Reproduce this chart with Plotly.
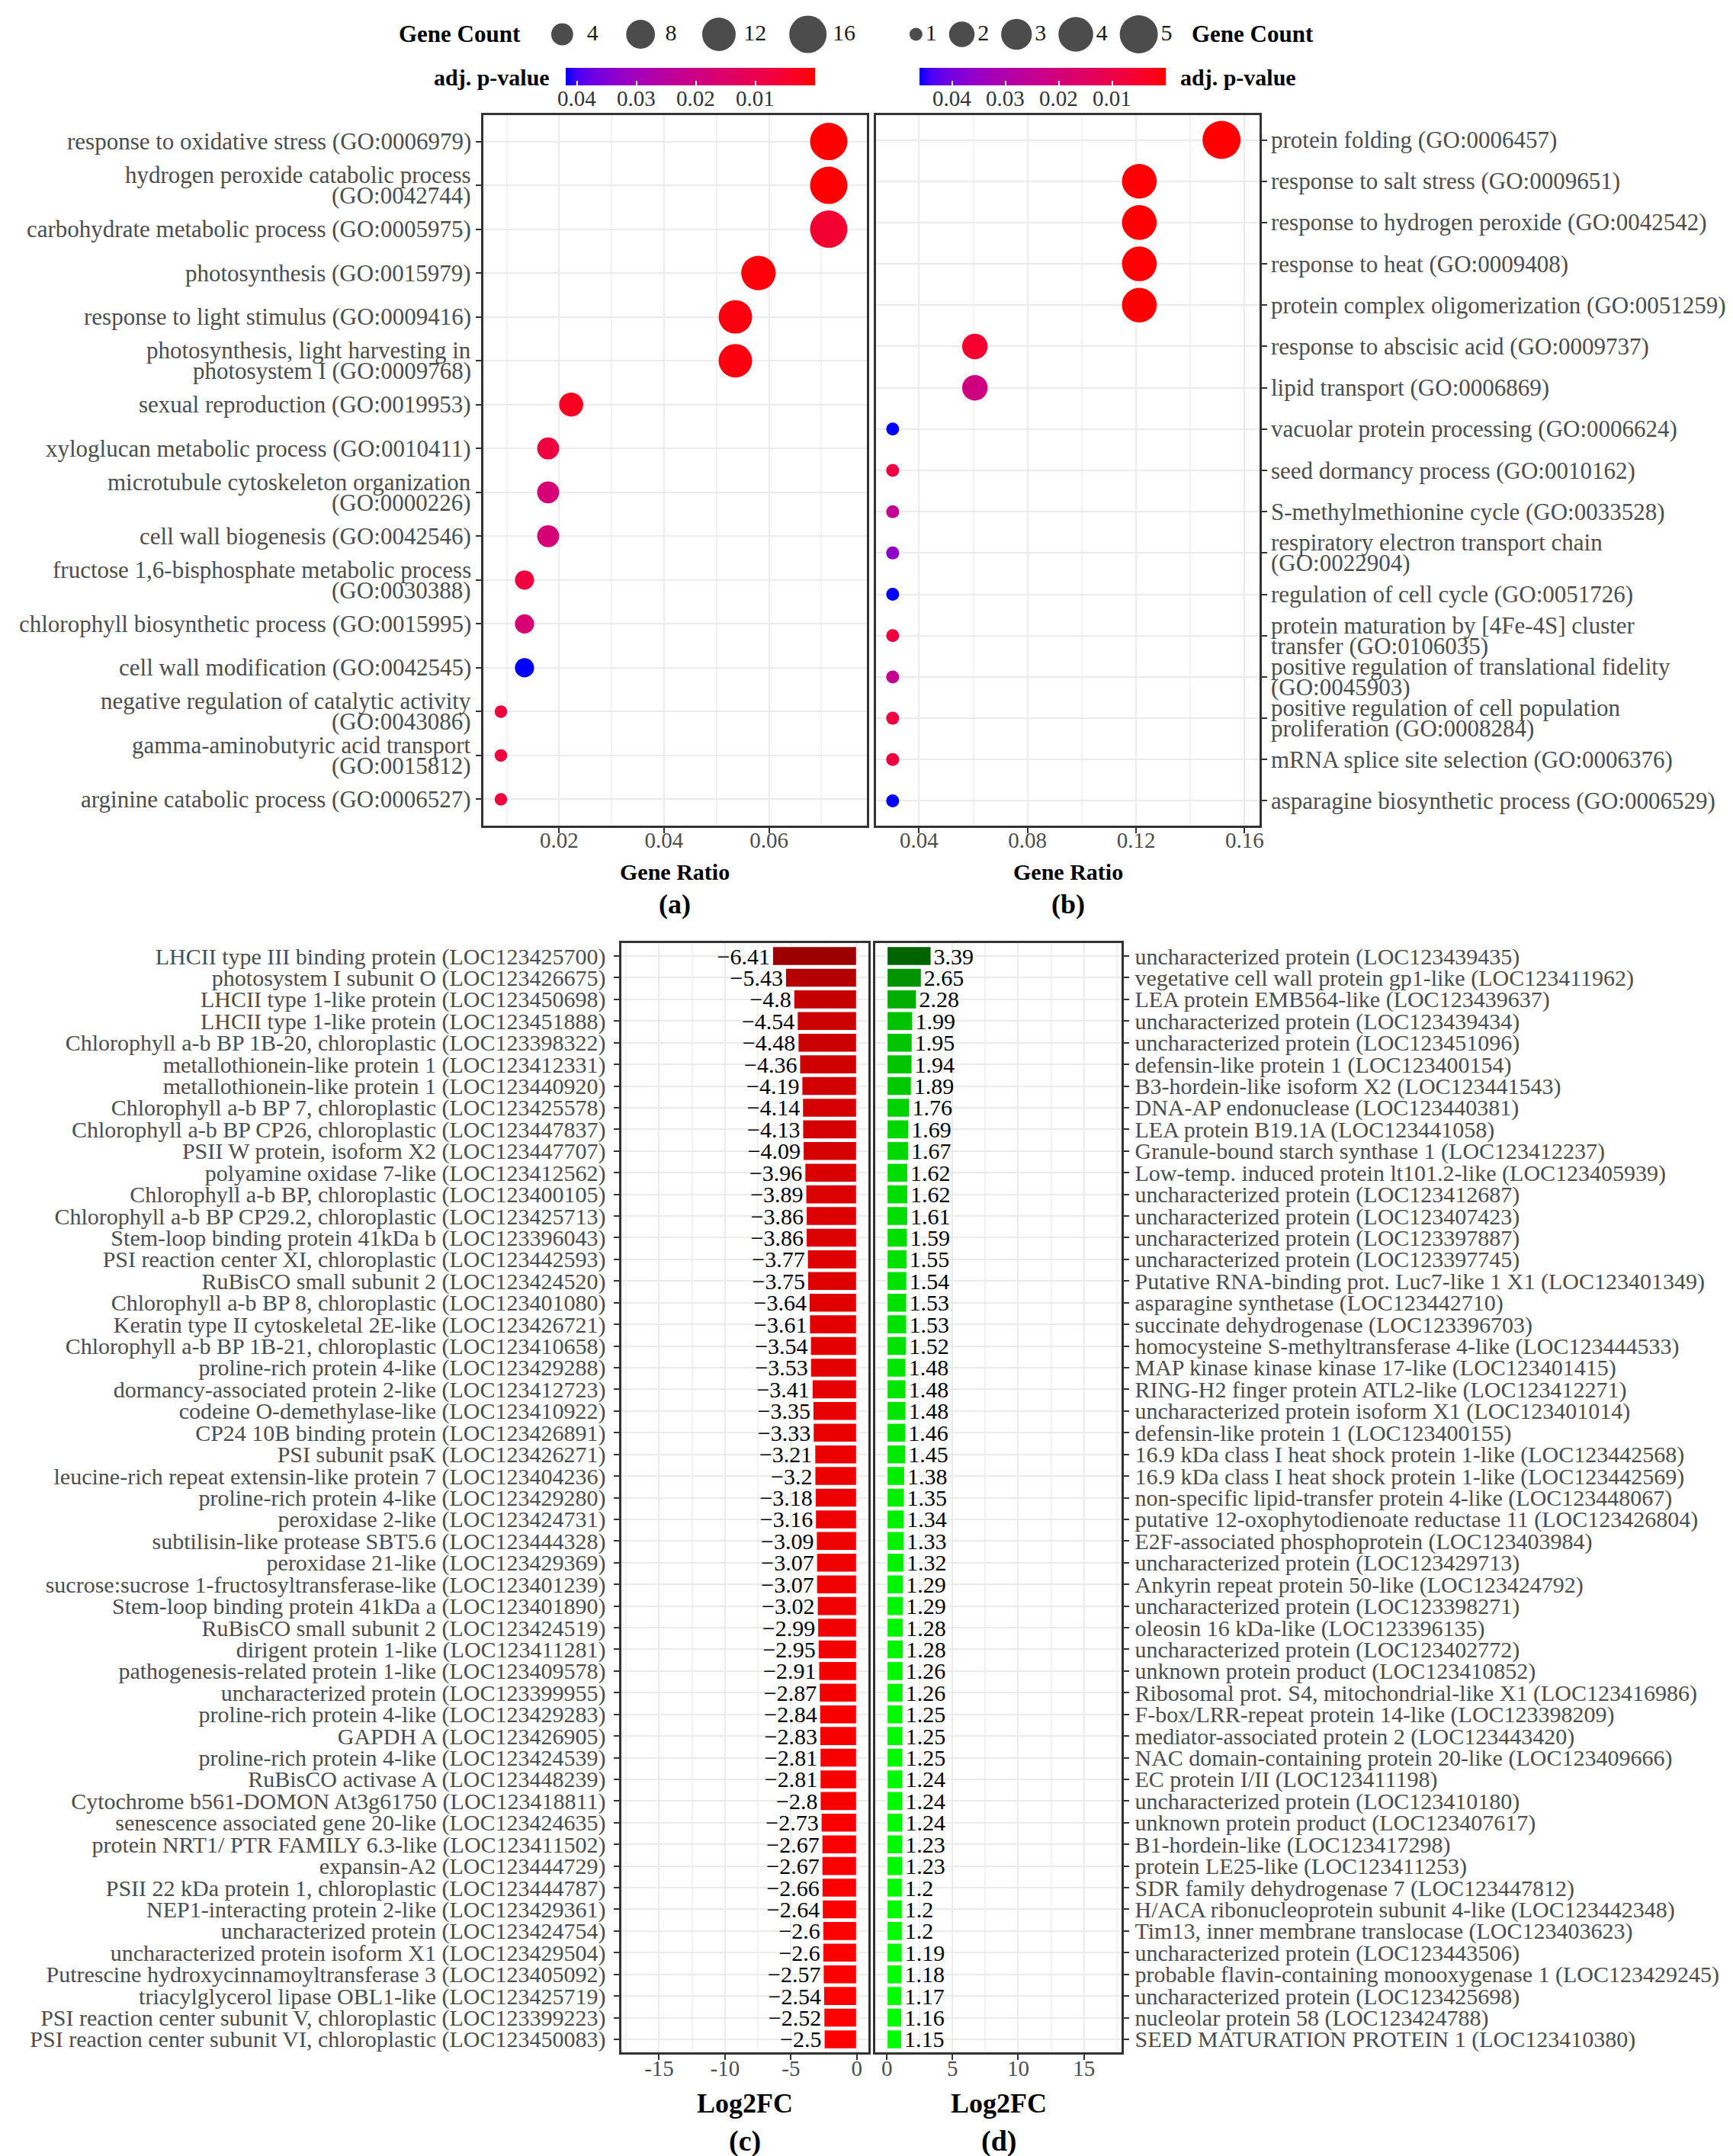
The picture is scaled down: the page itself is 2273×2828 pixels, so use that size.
import numpy as np
import plotly.graph_objects as go

W, H = 2273, 2828
FONT = "Liberation Serif"
GRAY = "#4D4D4D"

# ---------------- Panel (a): GO terms, down-regulated ----------------
a_terms = [
    "response to oxidative stress (GO:0006979)",
    "hydrogen peroxide catabolic process\n(GO:0042744)",
    "carbohydrate metabolic process (GO:0005975)",
    "photosynthesis (GO:0015979)",
    "response to light stimulus (GO:0009416)",
    "photosynthesis, light harvesting in\nphotosystem I (GO:0009768)",
    "sexual reproduction (GO:0019953)",
    "xyloglucan metabolic process (GO:0010411)",
    "microtubule cytoskeleton organization\n(GO:0000226)",
    "cell wall biogenesis (GO:0042546)",
    "fructose 1,6-bisphosphate metabolic process\n(GO:0030388)",
    "chlorophyll biosynthetic process (GO:0015995)",
    "cell wall modification (GO:0042545)",
    "negative regulation of catalytic activity\n(GO:0043086)",
    "gamma-aminobutyric acid transport\n(GO:0015812)",
    "arginine catabolic process (GO:0006527)",
]
a_ratio = [0.0714, 0.0714, 0.0714, 0.0580, 0.0536, 0.0536, 0.0223, 0.0179,
           0.0179, 0.0179, 0.0134, 0.0134, 0.0134, 0.0089, 0.0089, 0.0089]
a_count = [16, 16, 16, 13, 12, 12, 5, 4, 4, 4, 3, 3, 3, 2, 2, 2]
a_padj = [0.00005, 0.0002, 0.0055, 0.0008, 0.0012, 0.0012, 0.003, 0.0075,
          0.0175, 0.0175, 0.0075, 0.017, 0.0419, 0.0075, 0.0075, 0.0075]
a_xticks = [0.02, 0.04, 0.06]

# ---------------- Panel (b): GO terms, up-regulated ----------------
b_terms = [
    "protein folding (GO:0006457)",
    "response to salt stress (GO:0009651)",
    "response to hydrogen peroxide (GO:0042542)",
    "response to heat (GO:0009408)",
    "protein complex oligomerization (GO:0051259)",
    "response to abscisic acid (GO:0009737)",
    "lipid transport (GO:0006869)",
    "vacuolar protein processing (GO:0006624)",
    "seed dormancy process (GO:0010162)",
    "S-methylmethionine cycle (GO:0033528)",
    "respiratory electron transport chain\n(GO:0022904)",
    "regulation of cell cycle (GO:0051726)",
    "protein maturation by [4Fe-4S] cluster\ntransfer (GO:0106035)",
    "positive regulation of translational fidelity\n(GO:0045903)",
    "positive regulation of cell population\nproliferation (GO:0008284)",
    "mRNA splice site selection (GO:0006376)",
    "asparagine biosynthetic process (GO:0006529)",
]
b_ratio = [0.1515, 0.1212, 0.1212, 0.1212, 0.1212, 0.0606, 0.0606, 0.0303, 0.0303,
           0.0303, 0.0303, 0.0303, 0.0303, 0.0303, 0.0303, 0.0303, 0.0303]
b_count = [5, 4, 4, 4, 4, 2, 2, 1, 1, 1, 1, 1, 1, 1, 1, 1, 1]
b_padj = [0.00003, 0.0004, 0.0004, 0.0004, 0.0004, 0.0055, 0.021, 0.046, 0.0085,
          0.025, 0.036, 0.046, 0.0085, 0.025, 0.0085, 0.0085, 0.046]
b_xticks = [0.04, 0.08, 0.12, 0.16]

# ---------------- Panel (c): down-regulated genes ----------------
c_genes = [
    "LHCII type III binding protein (LOC123425700)",
    "photosystem I subunit O (LOC123426675)",
    "LHCII type 1-like protein (LOC123450698)",
    "LHCII type 1-like protein (LOC123451888)",
    "Chlorophyll a-b BP 1B-20, chloroplastic (LOC123398322)",
    "metallothionein-like protein 1 (LOC123412331)",
    "metallothionein-like protein 1 (LOC123440920)",
    "Chlorophyll a-b BP 7, chloroplastic (LOC123425578)",
    "Chlorophyll a-b BP CP26, chloroplastic (LOC123447837)",
    "PSII W protein, isoform X2 (LOC123447707)",
    "polyamine oxidase 7-like (LOC123412562)",
    "Chlorophyll a-b BP, chloroplastic (LOC123400105)",
    "Chlorophyll a-b BP CP29.2, chloroplastic (LOC123425713)",
    "Stem-loop binding protein 41kDa b (LOC123396043)",
    "PSI reaction center XI, chloroplastic (LOC123442593)",
    "RuBisCO small subunit 2 (LOC123424520)",
    "Chlorophyll a-b BP 8, chloroplastic (LOC123401080)",
    "Keratin type II cytoskeletal 2E-like (LOC123426721)",
    "Chlorophyll a-b BP 1B-21, chloroplastic (LOC123410658)",
    "proline-rich protein 4-like (LOC123429288)",
    "dormancy-associated protein 2-like (LOC123412723)",
    "codeine O-demethylase-like (LOC123410922)",
    "CP24 10B binding protein (LOC123426891)",
    "PSI subunit psaK (LOC123426271)",
    "leucine-rich repeat extensin-like protein 7 (LOC123404236)",
    "proline-rich protein 4-like (LOC123429280)",
    "peroxidase 2-like (LOC123424731)",
    "subtilisin-like protease SBT5.6 (LOC123444328)",
    "peroxidase 21-like (LOC123429369)",
    "sucrose:sucrose 1-fructosyltransferase-like (LOC123401239)",
    "Stem-loop binding protein 41kDa a (LOC123401890)",
    "RuBisCO small subunit 2 (LOC123424519)",
    "dirigent protein 1-like (LOC123411281)",
    "pathogenesis-related protein 1-like (LOC123409578)",
    "uncharacterized protein (LOC123399955)",
    "proline-rich protein 4-like (LOC123429283)",
    "GAPDH A (LOC123426905)",
    "proline-rich protein 4-like (LOC123424539)",
    "RuBisCO activase A (LOC123448239)",
    "Cytochrome b561-DOMON At3g61750 (LOC123418811)",
    "senescence associated gene 20-like (LOC123424635)",
    "protein NRT1/ PTR FAMILY 6.3-like (LOC123411502)",
    "expansin-A2 (LOC123444729)",
    "PSII 22 kDa protein 1, chloroplastic (LOC123444787)",
    "NEP1-interacting protein 2-like (LOC123429361)",
    "uncharacterized protein (LOC123424754)",
    "uncharacterized protein isoform X1 (LOC123429504)",
    "Putrescine hydroxycinnamoyltransferase 3 (LOC123405092)",
    "triacylglycerol lipase OBL1-like (LOC123425719)",
    "PSI reaction center subunit V, chloroplastic (LOC123399223)",
    "PSI reaction center subunit VI, chloroplastic (LOC123450083)",
]
c_log2fc = [-6.41, -5.43, -4.8, -4.54, -4.48, -4.36, -4.19, -4.14, -4.13, -4.09,
            -3.96, -3.89, -3.86, -3.86, -3.77, -3.75, -3.64, -3.61, -3.54, -3.53,
            -3.41, -3.35, -3.33, -3.21, -3.2, -3.18, -3.16, -3.09, -3.07, -3.07,
            -3.02, -2.99, -2.95, -2.91, -2.87, -2.84, -2.83, -2.81, -2.81, -2.8,
            -2.73, -2.67, -2.67, -2.66, -2.64, -2.6, -2.6, -2.57, -2.54, -2.52, -2.5]
c_xticks = [-15, -10, -5, 0]

# ---------------- Panel (d): up-regulated genes ----------------
d_genes = [
    "uncharacterized protein (LOC123439435)",
    "vegetative cell wall protein gp1-like (LOC123411962)",
    "LEA protein EMB564-like (LOC123439637)",
    "uncharacterized protein (LOC123439434)",
    "uncharacterized protein (LOC123451096)",
    "defensin-like protein 1 (LOC123400154)",
    "B3-hordein-like isoform X2 (LOC123441543)",
    "DNA-AP endonuclease (LOC123440381)",
    "LEA protein B19.1A (LOC123441058)",
    "Granule-bound starch synthase 1 (LOC123412237)",
    "Low-temp. induced protein lt101.2-like (LOC123405939)",
    "uncharacterized protein (LOC123412687)",
    "uncharacterized protein (LOC123407423)",
    "uncharacterized protein (LOC123397887)",
    "uncharacterized protein (LOC123397745)",
    "Putative RNA-binding prot. Luc7-like 1 X1 (LOC123401349)",
    "asparagine synthetase (LOC123442710)",
    "succinate dehydrogenase (LOC123396703)",
    "homocysteine S-methyltransferase 4-like (LOC123444533)",
    "MAP kinase kinase kinase 17-like (LOC123401415)",
    "RING-H2 finger protein ATL2-like (LOC123412271)",
    "uncharacterized protein isoform X1 (LOC123401014)",
    "defensin-like protein 1 (LOC123400155)",
    "16.9 kDa class I heat shock protein 1-like (LOC123442568)",
    "16.9 kDa class I heat shock protein 1-like (LOC123442569)",
    "non-specific lipid-transfer protein 4-like (LOC123448067)",
    "putative 12-oxophytodienoate reductase 11 (LOC123426804)",
    "E2F-associated phosphoprotein (LOC123403984)",
    "uncharacterized protein (LOC123429713)",
    "Ankyrin repeat protein 50-like (LOC123424792)",
    "uncharacterized protein (LOC123398271)",
    "oleosin 16 kDa-like (LOC123396135)",
    "uncharacterized protein (LOC123402772)",
    "unknown protein product (LOC123410852)",
    "Ribosomal prot. S4, mitochondrial-like X1 (LOC123416986)",
    "F-box/LRR-repeat protein 14-like (LOC123398209)",
    "mediator-associated protein 2 (LOC123443420)",
    "NAC domain-containing protein 20-like (LOC123409666)",
    "EC protein I/II (LOC123411198)",
    "uncharacterized protein (LOC123410180)",
    "unknown protein product (LOC123407617)",
    "B1-hordein-like (LOC123417298)",
    "protein LE25-like (LOC123411253)",
    "SDR family dehydrogenase 7 (LOC123447812)",
    "H/ACA ribonucleoprotein subunit 4-like (LOC123442348)",
    "Tim13, inner membrane translocase (LOC123403623)",
    "uncharacterized protein (LOC123443506)",
    "probable flavin-containing monooxygenase 1 (LOC123429245)",
    "uncharacterized protein (LOC123425698)",
    "nucleolar protein 58 (LOC123424788)",
    "SEED MATURATION PROTEIN 1 (LOC123410380)",
]
d_log2fc = [3.39, 2.65, 2.28, 1.99, 1.95, 1.94, 1.89, 1.76, 1.69, 1.67,
            1.62, 1.62, 1.61, 1.59, 1.55, 1.54, 1.53, 1.53, 1.52, 1.48,
            1.48, 1.48, 1.46, 1.45, 1.38, 1.35, 1.34, 1.33, 1.32, 1.29,
            1.29, 1.28, 1.28, 1.26, 1.26, 1.25, 1.25, 1.25, 1.24, 1.24,
            1.24, 1.23, 1.23, 1.2, 1.2, 1.2, 1.19, 1.18, 1.17, 1.16, 1.15]
d_xticks = [0, 5, 10, 15]

size_keys_a = [4, 8, 12, 16]
size_keys_b = [1, 2, 3, 4, 5]
pval_ticks = [0.04, 0.03, 0.02, 0.01]


# ---------------- helpers ----------------
def hex_to_lab(hexc):
    rgb = [int(hexc[i:i + 2], 16) / 255 for i in (1, 3, 5)]
    lin = [c / 12.92 if c <= 0.04045 else ((c + 0.055) / 1.055) ** 2.4 for c in rgb]
    r, g, b = lin
    X = (0.4124 * r + 0.3576 * g + 0.1805 * b) / 0.95047
    Y = 0.2126 * r + 0.7152 * g + 0.0722 * b
    Z = (0.0193 * r + 0.1192 * g + 0.9505 * b) / 1.08883
    f = lambda t: t ** (1 / 3) if t > 0.008856 else 7.787 * t + 16 / 116
    fx, fy, fz = f(X), f(Y), f(Z)
    return 116 * fy - 16, 500 * (fx - fy), 200 * (fy - fz)


def lab_to_hex(L, a, b):
    fy = (L + 16) / 116
    fx = fy + a / 500
    fz = fy - b / 200
    finv = lambda t: t ** 3 if t ** 3 > 0.008856 else (t - 16 / 116) / 7.787
    X, Y, Z = 0.95047 * finv(fx), finv(fy), 1.08883 * finv(fz)
    r = 3.2406 * X - 1.5372 * Y - 0.4986 * Z
    g = -0.9689 * X + 1.8758 * Y + 0.0415 * Z
    bb = 0.0557 * X - 0.2040 * Y + 1.0570 * Z

    def gam(c):
        c = min(max(c, 0.0), 1.0)
        return 12.92 * c if c <= 0.0031308 else 1.055 * c ** (1 / 2.4) - 0.055
    return "#%02x%02x%02x" % tuple(int(round(gam(c) * 255)) for c in (r, g, bb))


def lab_scale(c0, c1, n=25):
    l0, l1 = hex_to_lab(c0), hex_to_lab(c1)
    return [[i / (n - 1), lab_to_hex(*[l0[k] + (l1[k] - l0[k]) * i / (n - 1) for k in range(3)])]
            for i in range(n)]


def diam(counts, ref_counts, dmin, dmax):
    lo, hi = min(ref_counts), max(ref_counts)
    return [dmin + (dmax - dmin) * np.sqrt((c - lo) / (hi - lo)) for c in counts]


def fmt(v):
    return ("%g" % v).replace("-", "\u2212")


def px(x):
    return x / W


def py(y):
    return 1 - y / H


p_scale = lab_scale("#0000FF", "#FF0000")
red_scale = lab_scale("#9C0000", "#FF0000")
green_scale = lab_scale("#00FF00", "#006400")

a_cats = [t.replace("\n", " ") for t in a_terms]
b_cats = [t.replace("\n", " ") for t in b_terms]

fig = go.Figure()

# dot plots
fig.add_trace(go.Scatter(
    x=a_ratio, y=a_cats, mode="markers", xaxis="x", yaxis="y",
    marker=dict(size=diam(a_count, a_count, 16.5, 49), sizemode="diameter",
                color=[-p for p in a_padj], coloraxis="coloraxis", line=dict(width=0), opacity=1),
    cliponaxis=False, showlegend=False))
fig.add_trace(go.Scatter(
    x=b_ratio, y=b_cats, mode="markers", xaxis="x2", yaxis="y2",
    marker=dict(size=diam(b_count, b_count, 17, 50), sizemode="diameter",
                color=[-p for p in b_padj], coloraxis="coloraxis2", line=dict(width=0), opacity=1),
    cliponaxis=False, showlegend=False))

# bar charts
fig.add_trace(go.Bar(
    x=c_log2fc, y=c_genes, orientation="h", xaxis="x3", yaxis="y3", width=0.9,
    marker=dict(color=c_log2fc, colorscale=red_scale, cmin=min(c_log2fc), cmax=max(c_log2fc),
                line=dict(color="white", width=2)),
    text=[fmt(v) for v in c_log2fc], textposition="outside", constraintext="none",
    textfont=dict(size=30, color="black", family=FONT), cliponaxis=False, showlegend=False))
fig.add_trace(go.Bar(
    x=d_log2fc, y=d_genes, orientation="h", xaxis="x4", yaxis="y4", width=0.9,
    marker=dict(color=d_log2fc, colorscale=green_scale, cmin=min(d_log2fc), cmax=max(d_log2fc),
                line=dict(color="white", width=2)),
    text=[fmt(v) for v in d_log2fc], textposition="outside", constraintext="none",
    textfont=dict(size=30, color="black", family=FONT), cliponaxis=False, showlegend=False))


# size legends (drawn on a hidden pixel-space overlay axis)
def legend_layout(keys, dks, start, gap, uniform):
    kw = [max(dks)] * len(keys) if uniform else list(dks)
    lw = [14 * len(str(k)) for k in keys]
    xs = [start]
    for i in range(1, len(keys)):
        xs.append(xs[-1] + kw[i - 1] / 2 + kw[i] / 2 + lw[i - 1] + gap)
    return xs, kw


for keys, ref, dmin, dmax, start, gap, uniform, pad in [
        (size_keys_a, a_count, 16.5, 49, 731, 40, True, 8),
        (size_keys_b, b_count, 17, 50, 1196, 21, False, 4)]:
    dks = diam(keys, ref, dmin, dmax)
    xs, kw = legend_layout(keys, dks, start, gap, uniform)
    fig.add_trace(go.Scatter(
        x=xs, y=[37] * len(keys), mode="markers", xaxis="x5", yaxis="y5",
        marker=dict(size=dks, sizemode="diameter", color="black", line=dict(width=0)),
        showlegend=False, hoverinfo="skip", cliponaxis=False))
    fig.add_trace(go.Scatter(
        x=[x + k / 2 + pad for x, k in zip(xs, kw)], y=[37] * len(keys), mode="text",
        text=[str(k) for k in keys], textposition="middle right", xaxis="x5", yaxis="y5",
        textfont=dict(size=30, color="#1A1A1A", family=FONT),
        showlegend=False, hoverinfo="skip", cliponaxis=False))

grid = "#EBEBEB"
minor_grid = "#F2F2F2"
line_c = "#333333"


def xax(domain, rng, ticks, mdtick, anchor, tfmt="%g", standoff=-14):
    return dict(domain=domain, range=rng, anchor=anchor,
                tickmode="array", tickvals=ticks, ticktext=[tfmt % t for t in ticks],
                showgrid=True, gridcolor=grid,
                gridwidth=2, zeroline=False, showline=True, mirror=True, linecolor=line_c,
                linewidth=2.5, ticks="outside", ticklen=7, tickwidth=2, tickcolor=line_c,
                ticklabelstandoff=standoff,
                tickfont=dict(size=29, color=GRAY, family=FONT),
                minor=dict(dtick=mdtick, tick0=0, showgrid=True, gridcolor=minor_grid, gridwidth=1.5,
                           ticks=""), fixedrange=True)


def yax(domain, cats, side, fsize, anchor, labels=True, standoff=5):
    return dict(domain=domain, type="category", categoryorder="array", categoryarray=cats,
                range=[len(cats) - 1 + 0.6, -0.6], side=side, anchor=anchor,
                tickmode="array", tickvals=cats, ticktext=cats, showticklabels=labels,
                ticklabelstandoff=standoff,
                showgrid=True, gridcolor=grid, gridwidth=2, zeroline=False,
                showline=True, mirror=True, linecolor=line_c, linewidth=2.5,
                ticks="outside", ticklen=7, tickwidth=2, tickcolor=line_c,
                tickfont=dict(size=fsize, color=GRAY, family=FONT), fixedrange=True)


top_dom = [py(1075), py(143)]
bot_dom = [py(2684), py(1229)]

fig.update_layout(
    width=W, height=H, autosize=False,
    margin=dict(l=0, r=0, t=0, b=0, pad=0),
    paper_bgcolor="white", plot_bgcolor="rgba(0,0,0,0)",
    font=dict(family=FONT, color=GRAY, size=28),
    xaxis=xax([px(627), px(1131)], [0.0055, 0.0786], a_xticks, 0.01, "y", "%.2f", -16),
    yaxis=yax(top_dom, a_cats, "left", 31, "x", labels=False),
    xaxis2=xax([px(1144), px(1648)], [0.0243, 0.1656], b_xticks, 0.02, "y2", "%.2f", -16),
    yaxis2=yax(top_dom, b_cats, "right", 31, "x2", labels=False),
    xaxis3=xax([px(809), px(1133)], [-17.85, 0.85], c_xticks, 2.5, "y3"),
    yaxis3=yax(bot_dom, c_genes, "left", 30, "x3"),
    xaxis4=xax([px(1143), px(1466)], [-0.85, 17.85], d_xticks, 2.5, "y4"),
    yaxis4=yax(bot_dom, d_genes, "right", 30, "x4", standoff=2),
    xaxis5=dict(domain=[0, 1], range=[0, W], visible=False, anchor="y5", fixedrange=True),
    yaxis5=dict(domain=[0, 1], range=[H, 0], visible=False, anchor="x5", fixedrange=True),
    bargap=0.1,
)

CB_TOP, CB_THICK = 81, 23
cbars = [(a_padj, 735.5, 326.5), (b_padj, 1201, 323)]


def cbar(x0, length):
    return dict(orientation="h", x=px(x0), xanchor="left", y=py(CB_TOP), yanchor="top",
                len=length, lenmode="pixels", thickness=CB_THICK, thicknessmode="pixels",
                outlinewidth=0, xpad=0, ypad=0,
                tickvals=[-v for v in pval_ticks], showticklabels=False,
                ticks="inside", ticklen=6, tickwidth=1.5, tickcolor="white")


fig.update_layout(
    coloraxis=dict(colorscale=p_scale, cmin=-max(a_padj), cmax=-min(a_padj),
                   colorbar=cbar(735.5, 326.5)),
    coloraxis2=dict(colorscale=p_scale, cmin=-max(b_padj), cmax=-min(b_padj),
                    colorbar=cbar(1201, 323)),
)

ann = []


def add_text(txt, x, y, size, xanchor="center", color="black"):
    ann.append(dict(text=txt, x=px(x), y=py(y), xref="paper", yref="paper", showarrow=False,
                    xanchor=xanchor, yanchor="middle",
                    font=dict(size=size, color=color, family=FONT)))


# colorbar tick labels, placed through each colorbar's value scale
for pv, x0, length in cbars:
    lo, hi = -max(pv), -min(pv)
    for v in pval_ticks:
        add_text("%g" % v, x0 + (-v - lo) / (hi - lo) * length, CB_TOP + CB_THICK + 17, 29,
                 color="#333333")

# GO term labels (tight line spacing for wrapped terms)
LINE_GAP = 27
for terms, yref, edge, xanchor, xshift in [(a_terms, "y", 627, "right", -14),
                                           (b_terms, "y2", 1648, "left", 13)]:
    for i, t in enumerate(terms):
        lines = t.split("\n")
        n = len(lines)
        for j, ln in enumerate(lines):
            ann.append(dict(text=ln, x=px(edge), xref="paper", y=i, yref=yref,
                            showarrow=False, xanchor=xanchor, yanchor="middle",
                            xshift=xshift, yshift=-(j - (n - 1) / 2) * LINE_GAP,
                            font=dict(size=31, color=GRAY, family=FONT)))

add_text("<b>Gene Count</b>", 678, 37, 31, "right")
add_text("<b>adj. p-value</b>", 717, 93, 30, "right")
add_text("<b>Gene Count</b>", 1556, 37, 31, "left")
add_text("<b>adj. p-value</b>", 1541, 93, 30, "left")
add_text("<b>Gene Ratio</b>", 879, 1135, 30)
add_text("<b>Gene Ratio</b>", 1396, 1135, 30)
add_text("<b>(a)</b>", 879, 1178, 36)
add_text("<b>(b)</b>", 1396, 1178, 36)
add_text("<b>Log2FC</b>", 971, 2751, 36)
add_text("<b>Log2FC</b>", 1305, 2751, 36)
add_text("<b>(c)</b>", 971, 2800, 38)
add_text("<b>(d)</b>", 1305, 2800, 38)
fig.update_layout(annotations=ann)

fig.write_html("out.html")
